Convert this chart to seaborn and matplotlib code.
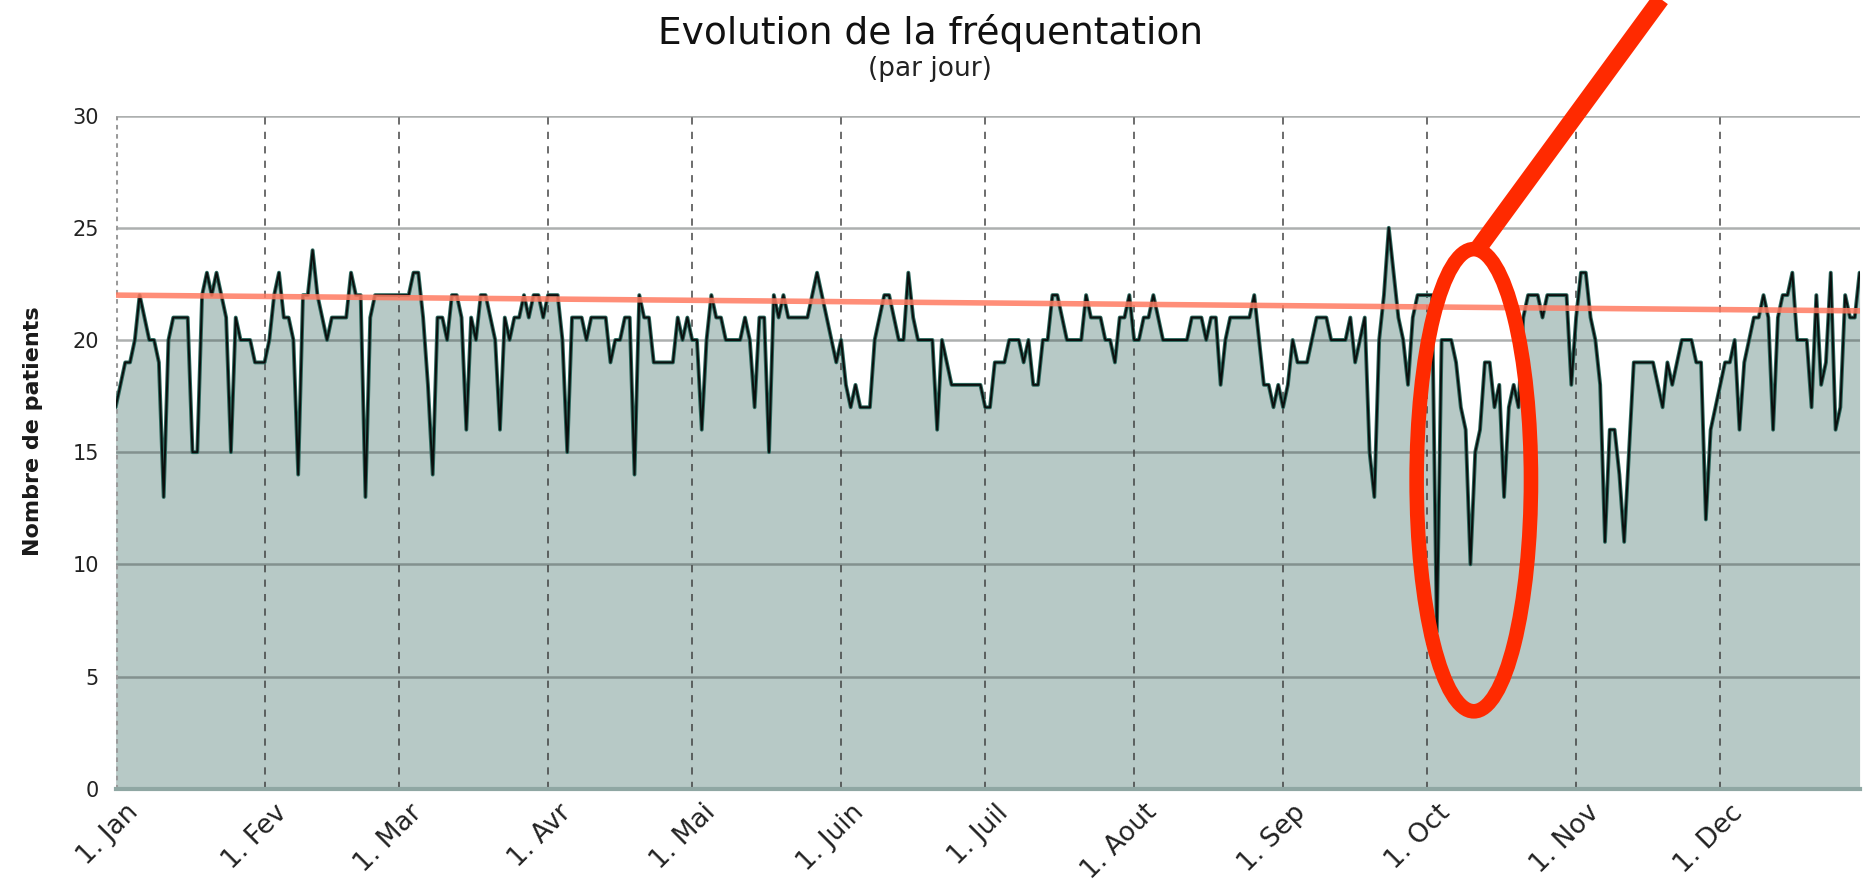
import numpy as np
import pandas as pd
import matplotlib
matplotlib.use('Agg')
import matplotlib.pyplot as plt
import matplotlib.transforms as mtransforms
from matplotlib.patches import Ellipse
import seaborn as sns

# Daily patient counts
jan = [17, 18, 19, 19, 20, 22, 21, 20, 20, 19, 13, 20, 21, 21, 21, 21, 15, 15, 22, 23,
       22, 23, 22, 21, 15, 21, 20, 20, 20, 19, 19]
fev = [19, 20, 22, 23, 21, 21, 20, 14, 22, 22, 24, 22, 21, 20, 21, 21, 21, 21, 23, 22,
       22, 13, 21, 22, 22, 22, 22, 22]
mar = [22, 22, 22, 23, 23, 21, 18, 14, 21, 21, 20, 22, 22, 21, 16, 21, 20, 22, 22, 21,
       20, 16, 21, 20, 21, 21, 22, 21, 22, 22, 21]
avr = [22, 22, 22, 20, 15, 21, 21, 21, 20, 21, 21, 21, 21, 19, 20, 20, 21, 21, 14, 22,
       21, 21, 19, 19, 19, 19, 19, 21, 20, 21]
mai = [20, 20, 16, 20, 22, 21, 21, 20, 20, 20, 20, 21, 20, 17, 21, 21, 15, 22, 21, 22,
       21, 21, 21, 21, 21, 22, 23, 22, 21, 20, 19]
juin = [20, 18, 17, 18, 17, 17, 17, 20, 21, 22, 22, 21, 20, 20, 23, 21, 20, 20, 20, 20,
        16, 20, 19, 18, 18, 18, 18, 18, 18, 18]
juil = [17, 17, 19, 19, 19, 20, 20, 20, 19, 20, 18, 18, 20, 20, 22, 22, 21, 20, 20, 20,
        20, 22, 21, 21, 21, 20, 20, 19, 21, 21, 22]
aout = [20, 20, 21, 21, 22, 21, 20, 20, 20, 20, 20, 20, 21, 21, 21, 20, 21, 21, 18, 20,
        21, 21, 21, 21, 21, 22, 20, 18, 18, 17, 18]
sep = [17, 18, 20, 19, 19, 19, 20, 21, 21, 21, 20, 20, 20, 20, 21, 19, 20, 21, 15, 13,
       20, 22, 25, 23, 21, 20, 18, 21, 22, 22]
oct_ = [22, 22, 7, 20, 20, 20, 19, 17, 16, 10, 15, 16, 19, 19, 17, 18, 13, 17, 18, 17,
        21, 22, 22, 22, 21, 22, 22, 22, 22, 22, 18]
nov = [21, 23, 23, 21, 20, 18, 11, 16, 16, 14, 11, 15, 19, 19, 19, 19, 19, 18, 17, 19,
       18, 19, 20, 20, 20, 19, 19, 12, 16, 17]
dec = [18, 19, 19, 20, 16, 19, 20, 21, 21, 22, 21, 16, 21, 22, 22, 23, 20, 20, 20, 17,
       22, 18, 19, 23, 16, 17, 22, 21, 21, 23]

month_starts = [0, 31, 59, 90, 120, 151, 181, 212, 243, 273, 304, 334]
month_labels = ['1. Jan', '1. Fev', '1. Mar', '1. Avr', '1. Mai', '1. Juin',
                '1. Juil', '1. Aout', '1. Sep', '1. Oct', '1. Nov', '1. Dec']
y_ticks = [0, 5, 10, 15, 20, 25, 30]

# trend line (start / end value)
trend_start = 22.0
trend_end = 21.3

# highlighted zone (ellipse) in data units
ellipse_center = (282.7, 13.75)
ellipse_size = (23.8, 20.6)

patients = jan + fev + mar + avr + mai + juin + juil + aout + sep + oct_ + nov + dec
df = pd.DataFrame({'jour': np.arange(len(patients)), 'patients': patients})
n_days = len(df)

sns.set_style('white')
plt.rcParams['font.family'] = ['DejaVu Sans']

fig = plt.figure(figsize=(18.68, 8.84), dpi=100)
ax = fig.add_axes([0.0619, 0.1078, 0.9336, 0.7614])

# area
ax.fill_between(df['jour'], df['patients'], 0, color='#b7c9c6', zorder=1, linewidth=0)

# grid
for v in y_ticks[1:]:
    ax.axhline(v, color='#3c4442', alpha=0.42, lw=1.8, zorder=2)
ax.axvline(0, color='#9a9a9a', lw=2.2, ls=(0, (1.5, 1.5)), zorder=2)
for m in month_starts[1:]:
    ax.axvline(m, color='#3a3a3a', lw=1.3, ls=(0, (4, 4)), alpha=0.8, zorder=2)

# series line with a slight teal halo
sns.lineplot(data=df, x='jour', y='patients', ax=ax, color='#2f6b60', linewidth=2.8, zorder=3)
sns.lineplot(data=df, x='jour', y='patients', ax=ax, color='#0b0f0e', linewidth=1.4, zorder=4)

# trend line
ax.plot([0, n_days - 1], [trend_start, trend_end], color='#ff7a60', alpha=0.85, lw=4, zorder=5)

# annotation: ellipse + pointer line
ell = Ellipse(ellipse_center, ellipse_size[0], ellipse_size[1], fill=False,
              edgecolor='#ff2a00', lw=10.5, zorder=6, clip_on=False)
ax.add_patch(ell)
top_y = ellipse_center[1] + ellipse_size[1] / 2
ax.plot([ellipse_center[0] + 0.8, ellipse_center[0] + 48], [top_y, top_y + 13.8],
        color='#ff2a00', lw=12.5, solid_capstyle='butt', clip_on=False, zorder=6)

ax.set_xlim(0, n_days - 1)
ax.set_ylim(0, 30)
ax.set_yticks(y_ticks)
ax.set_yticklabels([str(v) for v in y_ticks], fontsize=15, color='#222222')
ax.set_xticks(month_starts)
ax.set_xticklabels([])
ax.tick_params(axis='both', length=0)
ax.tick_params(axis='y', pad=12)
ax.set_xlabel('')
ax.set_ylabel('')

# rotated month labels, shifted right/down from each tick like the original
offset = mtransforms.ScaledTranslation(0.19, -0.20, fig.dpi_scale_trans)
for m, lab in zip(month_starts, month_labels):
    ax.text(m, 0, lab, transform=ax.get_xaxis_transform() + offset, rotation=45,
            ha='right', va='center', rotation_mode='anchor', fontsize=19, color='#222222')

for side in ['top', 'right', 'left']:
    ax.spines[side].set_visible(False)
ax.spines['bottom'].set_color('#8fa7a3')
ax.spines['bottom'].set_linewidth(3)

fig.text(0.0177, 0.512, 'Nombre de patients', rotation=90, ha='center', va='center',
         fontsize=16, fontweight='bold', color='#1a1a1a')
fig.text(0.498, 0.963, 'Evolution de la fréquentation', ha='center', va='center',
         fontsize=27, color='#111111')
fig.text(0.498, 0.922, '(par jour)', ha='center', va='center', fontsize=19, color='#222222')

fig.savefig('out.png', dpi=100)
